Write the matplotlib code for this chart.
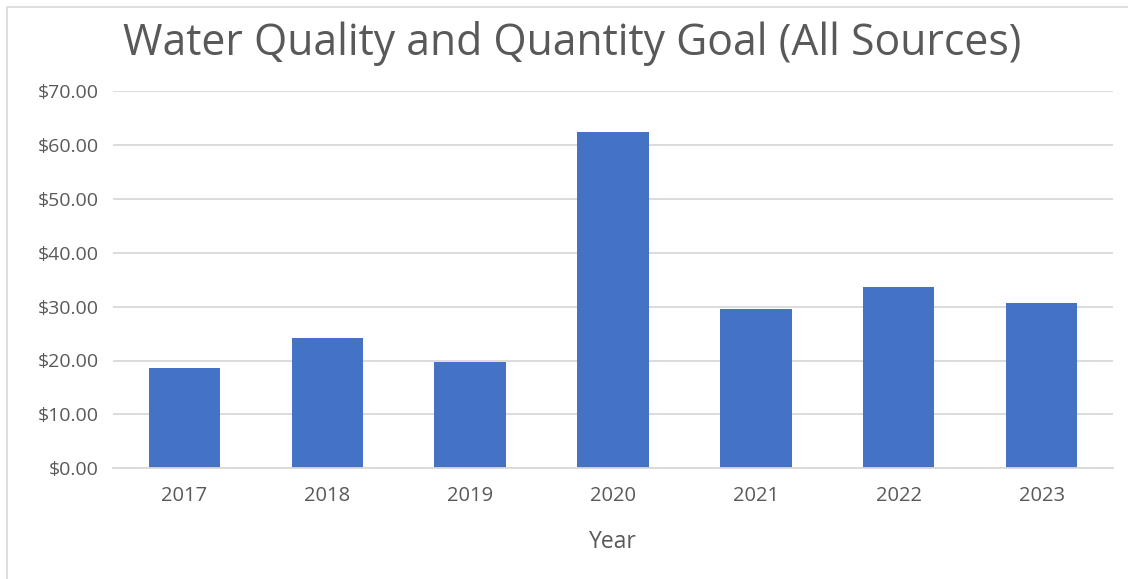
import matplotlib
matplotlib.use("Agg")
import matplotlib.pyplot as plt
from matplotlib.patches import Rectangle
from matplotlib.ticker import FuncFormatter, MultipleLocator

years = ["2017", "2018", "2019", "2020", "2021", "2022", "2023"]
amounts = [18.7, 24.2, 19.7, 62.4, 29.5, 33.6, 30.6]

title = "Water Quality and Quantity Goal (All Sources)"
x_label = "Year"

BAR = "#4472C4"
TEXT = "#595959"
GRID = "#D9D9D9"

plt.rcParams["font.family"] = ["Open Sans", "DejaVu Sans"]

fig = plt.figure(figsize=(11.28, 5.79), dpi=100)
ax = fig.add_axes([113 / 1128, 1 - 468.3 / 579, 1000 / 1128, (468.3 - 91) / 579])

x = range(len(years))
ax.bar(x, amounts, width=0.5, color=BAR, zorder=3)

ax.set_xlim(-0.5, len(years) - 0.5)
ax.set_ylim(0, 70)
ax.yaxis.set_major_locator(MultipleLocator(10))
ax.yaxis.set_major_formatter(FuncFormatter(lambda v, _: f"${v:.2f}"))
ax.set_xticks(list(x))
ax.set_xticklabels(years)

ax.grid(axis="y", color=GRID, linewidth=1.3, zorder=0)
for side in ("top", "right", "left"):
    ax.spines[side].set_visible(False)
ax.spines["bottom"].set_color(GRID)
ax.spines["bottom"].set_linewidth(1.3)
ax.spines["bottom"].set_zorder(4)

ax.tick_params(axis="both", length=0, colors=TEXT)
ax.tick_params(axis="y", pad=10, labelsize=14)
ax.tick_params(axis="x", pad=13, labelsize=14.5)

ax.set_xlabel(x_label, fontsize=16.5, color=TEXT, labelpad=17)
fig.text(572 / 1128, 1 - 44 / 579, title, ha="center", va="center",
         fontsize=30.8, color=TEXT)

fig.patches.append(Rectangle((7 / 1128, -0.1), 1.2, 1 - 7 / 579 + 0.1,
                             transform=fig.transFigure, fill=False,
                             edgecolor=GRID, linewidth=1.2))

fig.savefig("out.png", dpi=100, facecolor="white")
